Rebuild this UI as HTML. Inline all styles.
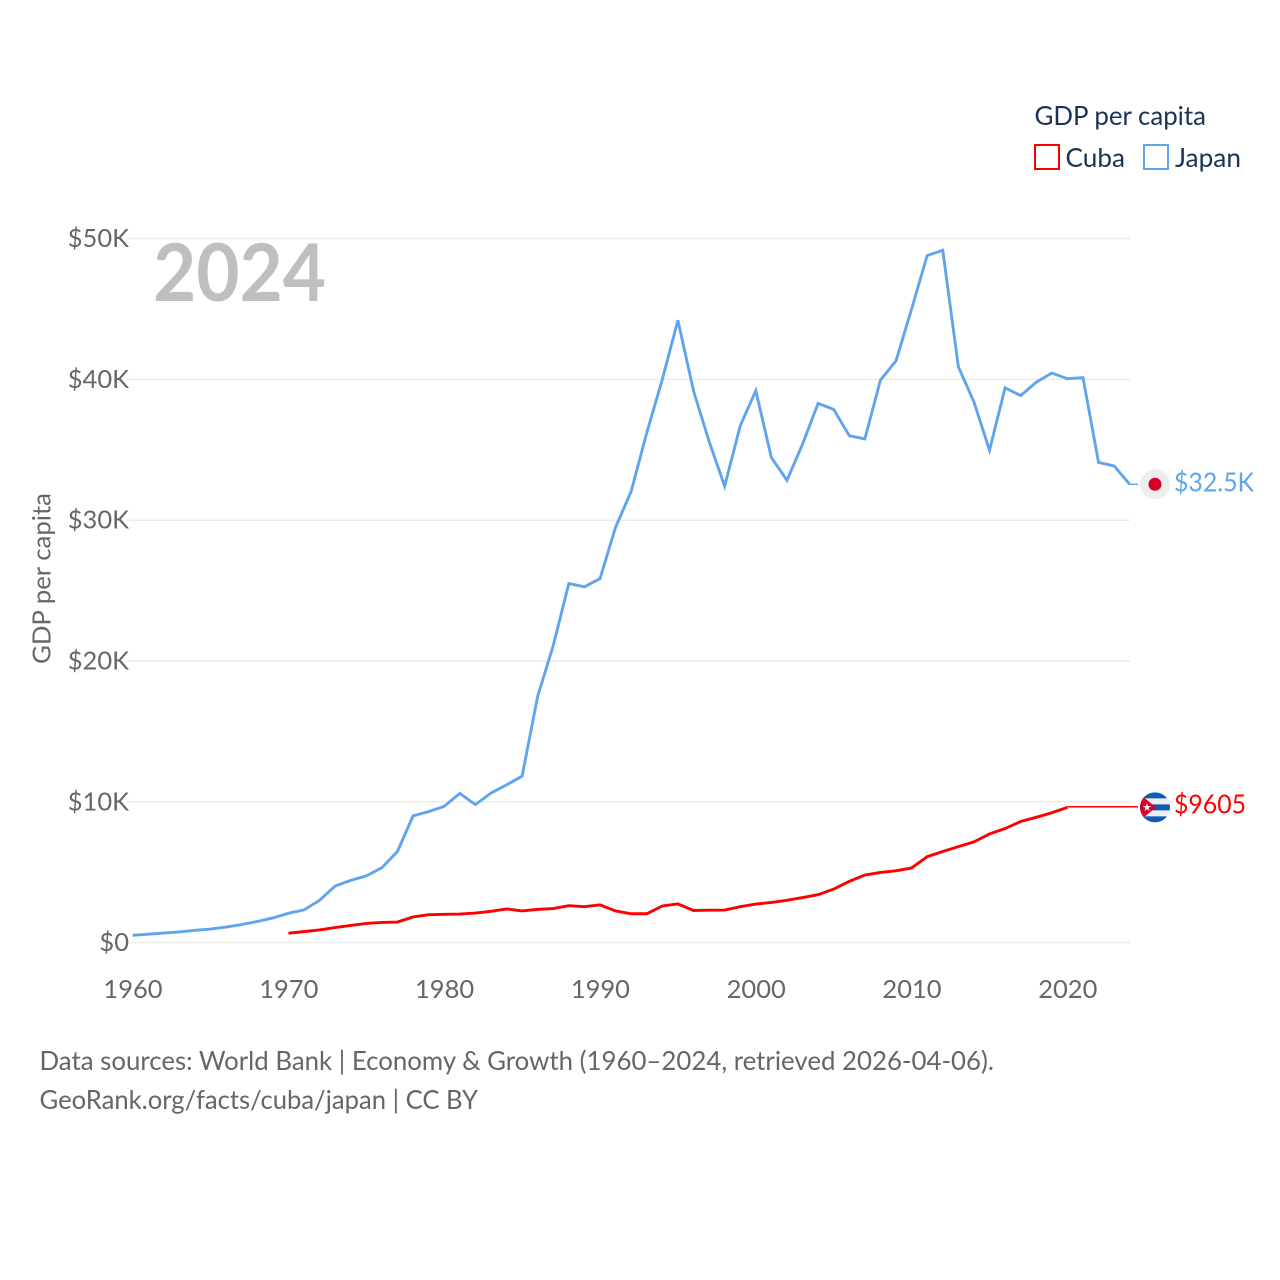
<!DOCTYPE html>
<html lang="en">
<head>
<meta charset="utf-8">
<title>GDP per capita: Cuba and Japan</title>
<style>
html,body{margin:0;padding:0;background:#fff;}
svg{display:block;}
text{font-family:"Lato","Carlito","Liberation Sans",sans-serif;}
</style>
</head>
<body>
<svg id="chart" xmlns="http://www.w3.org/2000/svg" width="1280" height="1280" viewBox="0 0 1280 1280">
  <rect x="0" y="0" width="1280" height="1280" fill="#ffffff"/>
  <defs>
    <clipPath id="flag-clip"><circle cx="0" cy="0" r="15"/></clipPath>
  </defs>
  <g id="grid"></g>
  <g id="yticks"></g>
  <g id="xticks"></g>
  <text x="153" y="301" font-size="80" font-weight="700" fill="#bfbfbf" textLength="173" lengthAdjust="spacingAndGlyphs">2024</text>
  <text transform="translate(50.5,664) rotate(-90)" font-size="25.5" fill="#666666" textLength="171" lengthAdjust="spacingAndGlyphs">GDP per capita</text>
  <g id="series"></g>
  <g id="markers"></g>
  <g>
    <text x="1034.5" y="125" font-size="26.5" fill="#1a3354" textLength="171.5" lengthAdjust="spacingAndGlyphs">GDP per capita</text>
    <rect x="1035" y="145" width="24" height="24" fill="none" stroke="#ff0000" stroke-width="2"/>
    <text x="1065.5" y="167" font-size="26.5" fill="#1a3354" textLength="59.5" lengthAdjust="spacingAndGlyphs">Cuba</text>
    <rect x="1144" y="145" width="24" height="24" fill="none" stroke="#60a5ec" stroke-width="2"/>
    <text x="1175" y="167" font-size="26.5" fill="#1a3354" textLength="66" lengthAdjust="spacingAndGlyphs">Japan</text>
  </g>
  <text x="39.5" y="1070" font-size="26.5" fill="#666666" textLength="954.5" lengthAdjust="spacingAndGlyphs">Data sources: World Bank | Economy &amp; Growth (1960–2024, retrieved 2026-04-06).</text>
  <text x="39.5" y="1109" font-size="26.5" fill="#666666" textLength="438.5" lengthAdjust="spacingAndGlyphs">GeoRank.org/facts/cuba/japan | CC BY</text>
</svg>
<script>
const japanStartYear = 1960;
const cubaStartYear = 1970;
const japanValues = [0.52,0.6,0.68,0.76,0.87,0.96,1.1,1.28,1.5,1.75,2.08,2.32,3.0,4.02,4.42,4.74,5.32,6.47,9.0,9.3,9.68,10.6,9.8,10.62,11.2,11.82,17.5,21.1,25.5,25.27,25.85,29.5,32.05,36.2,40.0,44.2,39.2,35.6,32.42,36.7,39.2,34.45,32.83,35.4,38.3,37.87,36.0,35.77,39.95,41.32,45.0,48.8,49.17,40.9,38.4,34.97,39.4,38.85,39.8,40.45,40.05,40.12,34.1,33.85,32.55];
const cubaValues = [0.67,0.78,0.9,1.07,1.22,1.36,1.43,1.46,1.82,1.98,2.01,2.03,2.1,2.22,2.39,2.25,2.36,2.42,2.62,2.55,2.68,2.25,2.05,2.05,2.6,2.75,2.28,2.3,2.31,2.55,2.74,2.85,3.0,3.2,3.4,3.8,4.35,4.8,4.98,5.1,5.3,6.1,6.47,6.82,7.15,7.72,8.1,8.6,8.9,9.22,9.605];
const xTickLabels = ["1960","1970","1980","1990","2000","2010","2020"];
const xTickYears = [1960,1970,1980,1990,2000,2010,2020];
const yTickLabels = ["$0","$10K","$20K","$30K","$40K","$50K"];
const yTickValues = [0,10,20,30,40,50];
const japanEndLabel = "$32.5K";
const cubaEndLabel = "$9605";

const NS = "http://www.w3.org/2000/svg";
function xScale(year){ return 132.6 + (year - 1960) * 15.58; }
function yScale(value){ return 942.6 - value * 14.08; }
function make(tag, attrs, parent){
  const el = document.createElementNS(NS, tag);
  for (const k in attrs) el.setAttribute(k, attrs[k]);
  parent.appendChild(el);
  return el;
}
function linePoints(values, startYear){
  return values.map(function(v, i){
    return xScale(startYear + i).toFixed(2) + "," + yScale(v).toFixed(2);
  }).join(" ");
}

const gridG = document.getElementById("grid");
const yG = document.getElementById("yticks");
const xG = document.getElementById("xticks");
const seriesG = document.getElementById("series");
const markersG = document.getElementById("markers");
const RED = "#ff0000";
const BLUE = "#60a5ec";

yTickValues.forEach(function(v, i){
  const g = make("line", {x1:127, x2:1130, y1:yScale(v), y2:yScale(v), stroke:"#ececec", "stroke-width":1.5}, gridG);
  
  
  const t = make("text", {x:129, y:yScale(v)+8.5, "text-anchor":"end", "font-size":25.5, fill:"#666666"}, yG);
  t.textContent = yTickLabels[i];
  
  
});

xTickYears.forEach(function(y, i){
  const t = make("text", {x:xScale(y)+0.4, y:998, "text-anchor":"middle", "font-size":25.5, fill:"#666666"}, xG);
  t.textContent = xTickLabels[i];
  
  
});

const japanLine = make("polyline", {points:linePoints(japanValues, japanStartYear), fill:"none", stroke:BLUE, "stroke-width":2.9, "stroke-linejoin":"miter"}, seriesG);



const cubaLine = make("polyline", {points:linePoints(cubaValues, cubaStartYear), fill:"none", stroke:RED, "stroke-width":2.9, "stroke-linejoin":"miter"}, seriesG);



const japanLastYear = japanStartYear + japanValues.length - 1;
const japanLastValue = japanValues[japanValues.length - 1];
const cubaLastYear = cubaStartYear + cubaValues.length - 1;
const cubaLastValue = cubaValues[cubaValues.length - 1];
const markerX = 1155;

const japanConnector = make("line", {x1:xScale(japanLastYear), x2:markerX-17, y1:yScale(japanLastValue), y2:yScale(japanLastValue), stroke:BLUE, "stroke-width":1.4}, markersG);



const cubaConnector = make("line", {x1:xScale(cubaLastYear), x2:markerX-17, y1:yScale(cubaLastValue)-0.6, y2:yScale(cubaLastValue)-0.6, stroke:RED, "stroke-width":1.4}, markersG);



const japanFlag = make("g", {transform:"translate(" + markerX + "," + yScale(japanLastValue) + ")"}, markersG);


make("circle", {cx:0, cy:0, r:15, fill:"#eeeeee"}, japanFlag);
make("circle", {cx:0, cy:0, r:6.5, fill:"#d80027"}, japanFlag);

const cubaFlag = make("g", {transform:"translate(" + markerX + "," + yScale(cubaLastValue) + ")", "clip-path":"url(#flag-clip)"}, markersG);


make("rect", {x:-15, y:-15, width:30, height:30, fill:"#eeeeee"}, cubaFlag);
make("rect", {x:-15, y:-15, width:30, height:6, fill:"#0f5bb5"}, cubaFlag);
make("rect", {x:-15, y:-3, width:30, height:6, fill:"#0f5bb5"}, cubaFlag);
make("rect", {x:-15, y:9, width:30, height:6, fill:"#0f5bb5"}, cubaFlag);
make("polygon", {points:"-15,-13 -15,13 1,0", fill:"#d80027"}, cubaFlag);
make("polygon", {points:"-8,-4.5 -7,-1.4 -3.7,-1.4 -6.4,0.6 -5.4,3.7 -8,1.8 -10.6,3.7 -9.6,0.6 -12.3,-1.4 -9,-1.4", fill:"#eeeeee"}, cubaFlag);

const japanLabel = make("text", {x:1174, y:yScale(japanLastValue)+7, "font-size":26.5, fill:BLUE, textLength:80, lengthAdjust:"spacingAndGlyphs"}, markersG);
japanLabel.textContent = japanEndLabel;



const cubaLabel = make("text", {x:1174, y:yScale(cubaLastValue)+6, "font-size":26.5, fill:RED, textLength:72, lengthAdjust:"spacingAndGlyphs"}, markersG);
cubaLabel.textContent = cubaEndLabel;


</script>
</body>
</html>
